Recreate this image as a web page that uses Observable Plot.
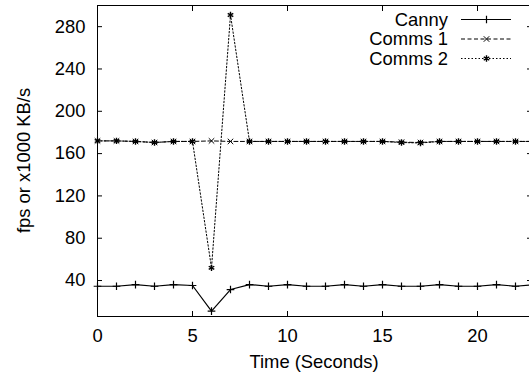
<!DOCTYPE html>
<html><head><meta charset="utf-8">
<script src="https://cdn.jsdelivr.net/npm/d3@7"></script>
<script src="https://cdn.jsdelivr.net/npm/@observablehq/plot@0.6"></script>
<style>html,body{margin:0;padding:0;background:#fff;overflow:hidden}</style>
</head><body><div id="chart"></div>
<script>
const seconds = [0,1,2,3,4,5,6,7,8,9,10,11,12,13,14,15,16,17,18,19,20,21,22,23];
const canny  = [34.6,34.6,36.2,34.6,36.2,35.3,11,31.5,36.2,34.6,36.2,34.6,34.6,36.2,34.6,36.2,34.6,34.6,36.2,34.6,34.6,36.2,34.6,36.2];
const comms1 = [172,172,171.5,170.5,171.5,171.5,172,171.5,171.5,171.5,171.5,171.5,171.5,171.5,171.5,171.5,170.8,170.5,171.5,171.5,171.5,171.5,171.5,171.5];
const comms2 = [172,172,171.5,170.5,171.5,171.5,52,291,171.5,171.5,171.5,171.5,171.5,171.5,171.5,171.5,170.5,170,171.5,171.5,171.5,171.5,171.5,171.5];
const seriesNames = ["Canny","Comms 1","Comms 2"];
const xTicks = [0,5,10,15,20];
const yTicks = [40,80,120,160,200,240,280];
const xTitle = "Time (Seconds)";
const yTitle = "fps or x1000 KB/s";

const W = 529, H = 375;
const mLeft = 97, mTop = 5, mBottom = 59;
const font = "'Liberation Sans', Arial, Helvetica, sans-serif";
const fs = 18.4;
const styles = [
  {symbol: "plus", dash: null, width: 1.2, r: 2.6, sw: 1.2},
  {symbol: "times", dash: "4,2.5", width: 1, r: 2.6, sw: 1},
  {symbol: "asterisk", dash: "1.5,2", width: 1, r: 3, sw: 1.4}
];
const values = [canny, comms1, comms2];
const tables = values.map(v => seconds.map((t, i) => ({t, v: v[i]})));

const lineMarks = [];
tables.forEach((tab, k) => {
  lineMarks.push(Plot.line(tab, {x: "t", y: "v", stroke: "#000", strokeWidth: styles[k].width, strokeDasharray: styles[k].dash}));
  lineMarks.push(Plot.dot(tab, {x: "t", y: "v", symbol: styles[k].symbol, r: styles[k].r, stroke: "#000", strokeWidth: styles[k].sw}));
});

const plot = Plot.plot({
  width: W, height: H,
  marginLeft: mLeft, marginTop: mTop, marginBottom: mBottom, marginRight: 0,
  x: {domain: [0, 23], range: [mLeft, mLeft + 23 * 19]},
  y: {domain: [6, 300]},
  style: {fontFamily: font, fontSize: fs + "px", background: "#fff", color: "#000", overflow: "hidden"},
  marks: [
    Plot.axisX({anchor: "bottom", ticks: xTicks, tickSize: 0, tickPadding: 12, label: null}),
    Plot.axisX({anchor: "bottom", ticks: xTicks, tickSize: -5, tickFormat: () => "", label: null}),
    Plot.axisX({anchor: "top", ticks: xTicks, tickSize: -5, tickFormat: () => "", label: null}),
    Plot.axisY({anchor: "left", ticks: yTicks, tickSize: 0, tickPadding: 12, label: null}),
    Plot.axisY({anchor: "left", ticks: yTicks, tickSize: -5, tickFormat: () => "", label: null}),
    Plot.axisY({anchor: "right", ticks: yTicks, tickSize: -5, tickFormat: () => "", label: null, dx: 2}),
    Plot.ruleX([0], {stroke: "#000"}),
    Plot.ruleY([6, 300], {stroke: "#000"}),
    ...lineMarks
  ]
});

const svg = d3.select(plot);
svg.append("text")
  .attr("transform", `translate(24,${(mTop + H - mBottom) / 2}) rotate(-90)`)
  .attr("text-anchor", "middle").attr("dy", "0.35em")
  .attr("font-family", font).attr("font-size", fs).attr("fill", "#000")
  .text(yTitle);
svg.append("text")
  .attr("x", 314).attr("y", 362)
  .attr("text-anchor", "middle").attr("dy", "0.35em")
  .attr("font-family", font).attr("font-size", fs).attr("fill", "#000")
  .text(xTitle);

const symMap = {plus: d3.symbolPlus, times: d3.symbolTimes, asterisk: d3.symbolAsterisk};
const leg = svg.append("g").attr("font-family", font).attr("font-size", fs);
seriesNames.forEach((name, k) => {
  const y = 19.5 + k * 19.5;
  leg.append("text").attr("x", 448).attr("y", y).attr("dy", "0.35em")
    .attr("text-anchor", "end").attr("fill", "#000").text(name);
  leg.append("line").attr("x1", 461).attr("x2", 511).attr("y1", y).attr("y2", y)
    .attr("stroke", "#000").attr("stroke-width", styles[k].width)
    .attr("stroke-dasharray", styles[k].dash);
  leg.append("path").attr("transform", `translate(486.5,${y})`)
    .attr("d", d3.symbol(symMap[styles[k].symbol], styles[k].r * styles[k].r * Math.PI)())
    .attr("fill", "none").attr("stroke", "#000").attr("stroke-width", styles[k].sw);
});

document.getElementById("chart").appendChild(plot);
</script>
</body></html>
